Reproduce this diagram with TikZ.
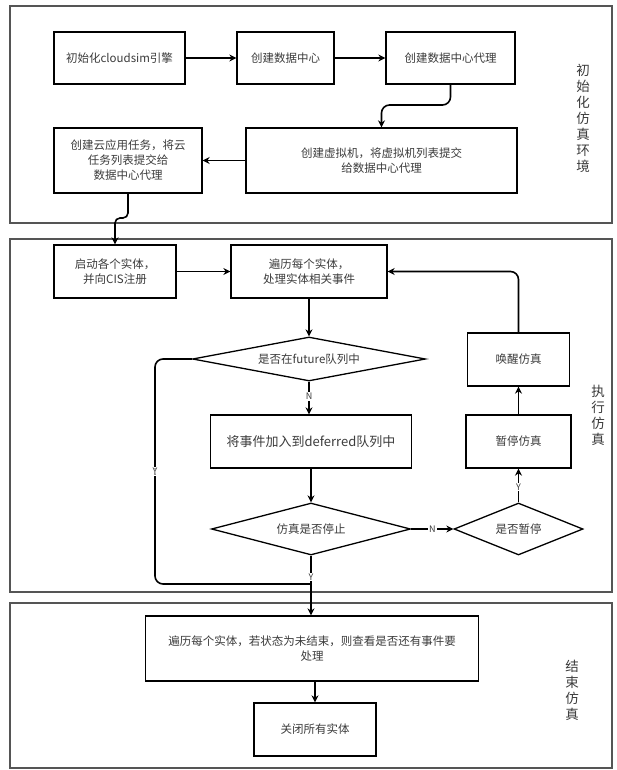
\documentclass[tikz,border=0pt]{standalone}
\usepackage{fontspec}
\setmainfont{Noto Sans CJK SC}
\usetikzlibrary{shapes.geometric,arrows.meta}
\definecolor{txt}{HTML}{3C3C3C}
\definecolor{frm}{HTML}{555555}
\tikzset{
  box/.style={draw=black, line width=1.3pt, rectangle, inner sep=2pt, align=center,
    text=txt, font=\fontsize{11.5}{15}\selectfont},
  dia/.style={draw=black, line width=1.3pt, diamond, aspect=5, inner sep=1pt, align=center,
    text=txt, font=\fontsize{11.5}{15}\selectfont},
  frame/.style={draw=frm, line width=1.5pt},
  arr/.style={draw=black, line width=1.6pt, -{Stealth[length=7pt,width=7pt]}},
  ln/.style={draw=black, line width=1.6pt},
  yn/.style={fill=white, inner sep=1pt, text=txt, font=\fontsize{9}{10}\selectfont},
  vlab/.style={align=center, text=txt, font=\fontsize{13.5}{16}\selectfont, inner sep=0pt}
}
\begin{document}
\begin{tikzpicture}[x=1pt,y=-1pt]
\useasboundingbox[fill=white] (0,0) rectangle (616,770);
% frames
\draw[frame] (10,6) rectangle (612,223);
\draw[frame] (10,239) rectangle (612,592);
\draw[frame] (10,603) rectangle (612,768);
% section labels
\node[vlab] (L1) at (583,118.5) {初\\始\\化\\仿\\真\\环\\境};
\node[vlab] (L2) at (598,415) {执\\行\\仿\\真};
\node[vlab] (L3) at (572,690) {结\\束\\仿\\真};
% stage 1
\node[box, minimum width=131pt, minimum height=52pt] (B1) at (119.5,58) {初始化cloudsim引擎};
\node[box, minimum width=97pt, minimum height=52pt] (B2) at (285.5,58) {创建数据中心};
\node[box, minimum width=129pt, minimum height=52pt] (B3) at (450.5,58) {创建数据中心代理};
\node[box, minimum width=271pt, minimum height=65pt] (B4) at (381.5,160.5) {创建虚拟机，将虚拟机列表提交\\给数据中心代理};
\node[box, minimum width=148pt, minimum height=65pt] (B5) at (128,160.5) {创建云应用任务，将云\\任务列表提交给\\数据中心代理};
% stage 2
\node[box, minimum width=122pt, minimum height=53pt] (B6) at (115,271.5) {启动各个实体，\\并向CIS注册};
\node[box, minimum width=156pt, minimum height=53pt] (B7) at (309,271.5) {遍历每个实体，\\处理实体相关事件};
\node[dia, minimum width=233pt, minimum height=44pt] (D1) at (309,359) {是否在future队列中};
\node[box, minimum width=201pt, minimum height=53pt, font=\fontsize{13}{15}\selectfont] (B8) at (311,441.5) {将事件加入到deferred队列中};
\node[dia, minimum width=199pt, minimum height=52pt] (D2) at (311,529) {仿真是否停止};
\node[dia, minimum width=129pt, minimum height=52pt] (D3) at (518.5,529) {是否暂停};
\node[box, minimum width=105pt, minimum height=53pt] (B10) at (518.5,441.5) {暂停仿真};
\node[box, minimum width=102pt, minimum height=53pt] (B9) at (518.5,359.5) {唤醒仿真};
% stage 3
\node[box, minimum width=333pt, minimum height=65pt] (B11) at (312,648.5) {遍历每个实体，若状态为未结束，则查看是否还有事件要\\处理};
\node[box, minimum width=122pt, minimum height=53pt] (B12) at (315,729.5) {关闭所有实体};
% helper coordinates
\coordinate (k1) at (415,105);
\coordinate (k2) at (115,218);
\coordinate (k3) at (155,584);
\coordinate (k4) at (311,584);
% connectors stage 1
\draw[arr] (B1) -- (B2);
\draw[arr] (B2) -- (B3);
\draw[arr, rounded corners=8pt] (B3.south) |- (k1) -| (B4.north);
\draw[arr] (B4.west) -- (B5.east);
\draw[arr, rounded corners=5pt] (B5.south) |- (k2) -- (B6.north);
% connectors stage 2
\draw[arr] (B6.east) -- (B7.west);
\draw[arr] (B7.south) -- (D1.north);
\draw[arr] (D1.south) -- node[yn, pos=0.45] {N} (D1.south |- B8.north);
\draw[arr] (B8.south) -- (D2.north);
\draw[arr] (D2.east) -- node[yn, pos=0.5] {N} (D3.west);
\draw[arr] (D3.north) -- node[yn, pos=0.45] {Y} (B10.south);
\draw[arr] (B10.north) -- (B9.south);
\draw[arr, rounded corners=8pt] (B9.north) |- (B7.east);
\draw[ln, rounded corners=8pt] (D1.west) -| node[yn, pos=0.75] {Y} (k3) -- (k4);
% connectors stage 3
\draw[arr] (D2.south) -- node[yn, pos=0.36] {Y} (D2.south |- B11.north);
\draw[arr] (B11.south -| B12.north) -- (B12.north);
\end{tikzpicture}
\end{document}
